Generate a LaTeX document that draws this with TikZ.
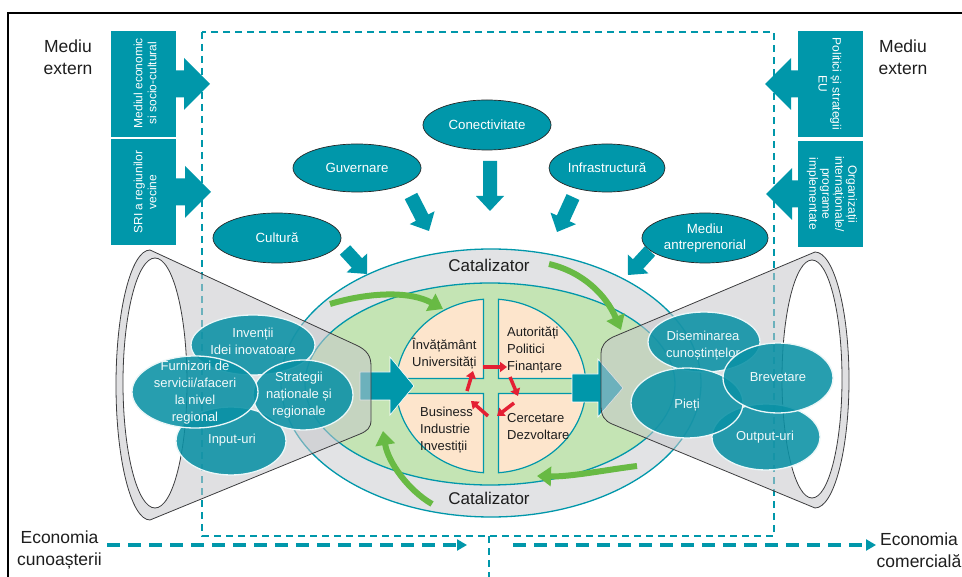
\documentclass[tikz,border=0pt]{standalone}
\usepackage{fontspec}
\setmainfont{Liberation Sans}
\usetikzlibrary{shapes.geometric,arrows.meta,calc}
\definecolor{teal1}{RGB}{0,151,170}
\definecolor{teal2}{RGB}{10,145,165}
\definecolor{greyell}{RGB}{226,227,229}
\definecolor{greenell}{RGB}{196,228,180}
\definecolor{beige}{RGB}{253,229,204}
\definecolor{garr}{RGB}{104,186,68}
\definecolor{rarr}{RGB}{228,32,52}
\definecolor{conegrey}{RGB}{198,199,203}
\definecolor{coneline}{RGB}{60,60,62}
\definecolor{txt}{RGB}{30,30,30}
\newcommand\blockarrow[6][]{%
  \coordinate (#2-h) at ($(#3)!#6!(#2)$);
  \fill[#1] ($(#2)!#4!90:(#3)$) -- ($(#2-h)!#4!90:(#3)$) -- ($(#2-h)!#5!90:(#3)$) -- (#3)
    -- ($(#2-h)!#5!-90:(#3)$) -- ($(#2-h)!#4!-90:(#3)$) -- ($(#2)!#4!-90:(#3)$) -- cycle;}
\begin{document}
\begin{tikzpicture}[x=1pt,y=1pt,
  bigtext/.style={font=\fontsize{17.5}{22}\selectfont, align=center, text=txt, inner sep=0pt},
  tbox/.style={fill=teal1, inner sep=0pt},
  boxtext/.style={font=\fontsize{12}{14}\selectfont, align=center, text=white, inner sep=0pt},
  topell/.style={ellipse, fill=teal1, draw=black!85, line width=0.7pt, inner sep=0pt},
  ltext/.style={font=\fontsize{13.3}{16}\selectfont, align=center, text=white, inner sep=0pt},
  funell/.style={ellipse, fill=teal2, fill opacity=0.88, draw=white!92!teal1, line width=1.3pt, inner sep=0pt},
  ftext/.style={font=\fontsize{13}{17}\selectfont, align=center, text=white!94!teal1, inner sep=0pt},
  qtext/.style={font=\fontsize{13}{17}\selectfont, align=left, text=txt, inner sep=0pt, anchor=west},
  catstyle/.style={font=\fontsize{17}{20}\selectfont, text=txt, inner sep=0pt},
  dashrect/.style={draw=teal1, line width=1.4pt, dash pattern=on 7pt off 5pt},
  bigdash/.style={draw=teal1, line width=4pt, dash pattern=on 13pt off 8pt, -{Triangle[width=11pt,length=10pt]}},
  garrow/.style={draw=garr, line width=6pt, -{Triangle[width=19pt,length=14pt]}},
  rarrow/.style={draw=rarr, line width=3.5pt, -{Triangle[width=10pt,length=7pt]}},
  quadstyle/.style={fill=beige, draw=teal1, line width=1.2pt},
  conestyle/.style={fill=conegrey, fill opacity=0.55, draw=coneline, line width=0.8pt},
  holestyle/.style={fill=white, draw=coneline, line width=0.8pt},
]
\useasboundingbox (0,0) rectangle (962,-577);
% frame
\draw[line width=2pt] (8,-580) -- (8,-13) -- (965,-13);
% dashed frame
\draw[dashrect] (202,-32) rectangle (774,-536);
\coordinate (vtop) at (489,-536);
\coordinate (vbot) at (489,-580);
\draw[dashrect] (vtop) -- (vbot);
% economy labels and arrows
\node[bigtext] (ecL) at (59.5,-550) {Economia\\cunoașterii};
\node[bigtext] (ecR) at (919,-550) {Economia\\comercială};
\coordinate (a1s) at (107,-545); \coordinate (a1e) at (467,-545);
\coordinate (a2s) at (513,-545); \coordinate (a2e) at (876,-545);
\draw[bigdash] (a1s) -- (a1e);
\draw[bigdash] (a2s) -- (a2e);
% external boxes
\coordinate (ba1) at (170,-84);  \coordinate (bb1) at (210,-84);
\coordinate (ba2) at (170,-192); \coordinate (bb2) at (211,-192);
\coordinate (ba3) at (804,-84);  \coordinate (bb3) at (765,-84);
\coordinate (ba4) at (804,-194); \coordinate (bb4) at (766,-194);
\blockarrow[teal1]{ba1}{bb1}{13.5pt}{26pt}{26pt}
\blockarrow[teal1]{ba2}{bb2}{13.5pt}{26pt}{26pt}
\blockarrow[teal1]{ba3}{bb3}{13.5pt}{26pt}{26pt}
\blockarrow[teal1]{ba4}{bb4}{13.5pt}{26pt}{26pt}
\node[tbox, minimum width=65pt, minimum height=106pt] (box1) at (143.5,-84) {};
\node[tbox, minimum width=65pt, minimum height=106pt] (box2) at (143.5,-192) {};
\node[tbox, minimum width=65pt, minimum height=106pt] (box3) at (830.5,-84) {};
\node[tbox, minimum width=65pt, minimum height=106pt] (box4) at (830.5,-194) {};
\node[boxtext, rotate=90] (t1) at (145,-83) {Mediul economic\\si socio-cultural};
\node[boxtext, rotate=90] (t2) at (145,-192) {SRI a regiunilor\\vecine};
\node[boxtext, rotate=-90] (t3) at (830,-84) {Politici și strategii\\EU};
\node[boxtext, rotate=-90, font=\fontsize{12}{13}\selectfont] (t4) at (832,-194) {Organizații\\internaționale/\\programe\\implementate};
\node[bigtext] (meL) at (68,-57) {Mediu\\extern};
\node[bigtext] (meR) at (903,-57) {Mediu\\extern};
% top ellipses
\node[topell, minimum width=128pt, minimum height=50pt] (conn) at (487,-125) {};
\node[ltext] (connt) at (conn.center) {Conectivitate};
\node[topell, minimum width=128pt, minimum height=48pt] (guv) at (357,-168) {};
\node[ltext] (guvt) at (guv.center) {Guvernare};
\node[topell, minimum width=116pt, minimum height=48pt] (inf) at (607,-168) {};
\node[ltext] (inft) at (inf.center) {Infrastructură};
\node[topell, minimum width=128pt, minimum height=50pt] (cult) at (277,-238) {};
\node[ltext] (cultt) at (cult.center) {Cultură};
\node[topell, minimum width=126pt, minimum height=50pt] (ment) at (705,-238) {};
\node[ltext] (mentt) at (ment.center) {Mediu\\antreprenorial};
% teal arrows
\coordinate (ga) at (411,-196); \coordinate (gb) at (429,-231);
\coordinate (ca) at (490,-161); \coordinate (cb) at (490,-211);
\coordinate (ia) at (573,-197); \coordinate (ib) at (557,-232);
\coordinate (ua) at (345,-250); \coordinate (ub) at (367,-274);
\coordinate (ma) at (650,-251); \coordinate (mb) at (628,-275);
\blockarrow[teal1]{ga}{gb}{7pt}{14pt}{15pt}
\blockarrow[teal1]{ca}{cb}{7pt}{14pt}{15pt}
\blockarrow[teal1]{ia}{ib}{7pt}{14pt}{15pt}
\blockarrow[teal1]{ua}{ub}{7pt}{14pt}{15pt}
\blockarrow[teal1]{ma}{mb}{7pt}{14pt}{15pt}
% central ellipses
\draw[fill=greyell, draw=teal1, line width=1.3pt] (491,-383) ellipse[x radius=210, y radius=134];
\draw[fill=greenell, draw=teal1, line width=1.3pt] (490,-384) ellipse[x radius=185, y radius=101];
% quadrants
\path[quadstyle] (498.5,-378.5) -- (585.65,-378.5) arc[start angle=4.95, end angle=85.47, x radius=95, y radius=87] -- cycle;
\path[quadstyle] (483.5,-378.5) -- (483.5,-299.27) arc[start angle=94.53, end angle=175.05, x radius=95, y radius=87] -- cycle;
\path[quadstyle] (483.5,-393.5) -- (396.35,-393.5) arc[start angle=184.95, end angle=265.47, x radius=95, y radius=87] -- cycle;
\path[quadstyle] (498.5,-393.5) -- (498.5,-472.73) arc[start angle=274.53, end angle=355.05, x radius=95, y radius=87] -- cycle;
\node[qtext] (q1) at (412,-353.5) {Învățământ\\Universități};
\node[qtext] (q2) at (507,-350) {Autorități\\Politici\\Finanțare};
\node[qtext] (q3) at (420,-430) {Business\\Industrie\\Investiții};
\node[qtext] (q4) at (507,-426.5) {Cercetare\\Dezvoltare};
\node[catstyle] (cat1) at (489,-265) {Catalizator};
\node[catstyle] (cat2) at (489,-498) {Catalizator};
% red cycle arrows
\coordinate (r1a) at (483,-367); \coordinate (r1b) at (507,-367);
\coordinate (r2a) at (510,-377); \coordinate (r2b) at (518,-396);
\coordinate (r3a) at (514,-403); \coordinate (r3b) at (497,-416);
\coordinate (r4a) at (488,-416); \coordinate (r4b) at (471,-401);
\coordinate (r5a) at (467,-391); \coordinate (r5b) at (473,-371);
\draw[rarrow] (r1a) -- (r1b);
\draw[rarrow] (r2a) -- (r2b);
\draw[rarrow] (r3a) -- (r3b);
\draw[rarrow] (r4a) -- (r4b);
\draw[rarrow] (r5a) -- (r5b);
% central block arrows
\coordinate (la) at (360,-386); \coordinate (lb) at (414,-386);
\coordinate (ra) at (572,-388); \coordinate (rb) at (623,-388);
\blockarrow[fill=teal1, draw=white, line width=0.6pt]{la}{lb}{14pt}{29pt}{24pt}
\blockarrow[fill=teal1, draw=white, line width=0.6pt]{ra}{rb}{14pt}{29pt}{25pt}
% cones
\path[conestyle] (150,-250) -- (356,-345) .. controls (367,-350) and (371,-356) .. (371,-366) -- (371,-420) .. controls (371,-428) and (367,-431) .. (360,-434) -- (150,-520) arc[start angle=270, end angle=90, x radius=34, y radius=135] -- cycle;
\draw[holestyle] (155,-383) ellipse[x radius=32, y radius=125];
\path[conestyle] (815,-252) arc[start angle=90, end angle=-90, x radius=34, y radius=128] -- (612,-424) .. controls (605,-421) and (601,-416) .. (601,-406) -- (601,-354) .. controls (601,-346) and (605,-341) .. (613,-337) -- cycle;
\draw[holestyle] (812,-379) ellipse[x radius=30, y radius=119];
% green arrows
\coordinate (g1s) at (330,-304); \coordinate (g1e) at (443,-309);
\coordinate (g2s) at (549,-264); \coordinate (g2e) at (621,-330);
\coordinate (g3s) at (637,-466); \coordinate (g3e) at (537,-476);
\coordinate (g4s) at (432,-504); \coordinate (g4e) at (383,-431);
\draw[garrow] (g1s) .. controls (370,-292) and (410,-291) .. (g1e);
\draw[garrow] (g2s) .. controls (583,-272) and (606,-295) .. (g2e);
\draw[garrow] (g3s) .. controls (605,-470) and (570,-477) .. (g3e);
\draw[garrow] (g4s) .. controls (408,-490) and (388,-462) .. (g4e);
% funnel ellipses left
\node[funell, minimum width=110pt, minimum height=68pt] (inp) at (231,-441) {};
\node[ftext] (inpt) at (232,-440) {Input-uri};
\node[funell, minimum width=124pt, minimum height=60pt] (inv) at (253,-345) {};
\node[ftext] (invt) at (253,-341) {Invenții\\Idei inovatoare};
\node[funell, minimum width=100pt, minimum height=70pt] (str) at (303,-395) {};
\node[ftext] (strt) at (299,-395) {Strategii\\naționale și\\regionale};
\node[funell, minimum width=126pt, minimum height=72pt] (fur) at (195,-392) {};
\node[ftext] (furt) at (195,-393) {Furnizori de\\servicii/afaceri\\la nivel\\regional};
% funnel ellipses right
\node[funell, minimum width=108pt, minimum height=66pt] (out) at (766,-437) {};
\node[ftext] (outt) at (765,-437) {Output-uri};
\node[funell, minimum width=112pt, minimum height=60pt] (dis) at (704,-342) {};
\node[ftext] (dist) at (703,-346) {Diseminarea\\cunoștințelor};
\node[funell, minimum width=112pt, minimum height=70pt] (pie) at (687,-403) {};
\node[ftext] (piet) at (687,-405) {Pieți};
\node[funell, minimum width=110pt, minimum height=70pt] (bre) at (778,-378) {};
\node[ftext] (bret) at (778,-377) {Brevetare};
\end{tikzpicture}
\end{document}
